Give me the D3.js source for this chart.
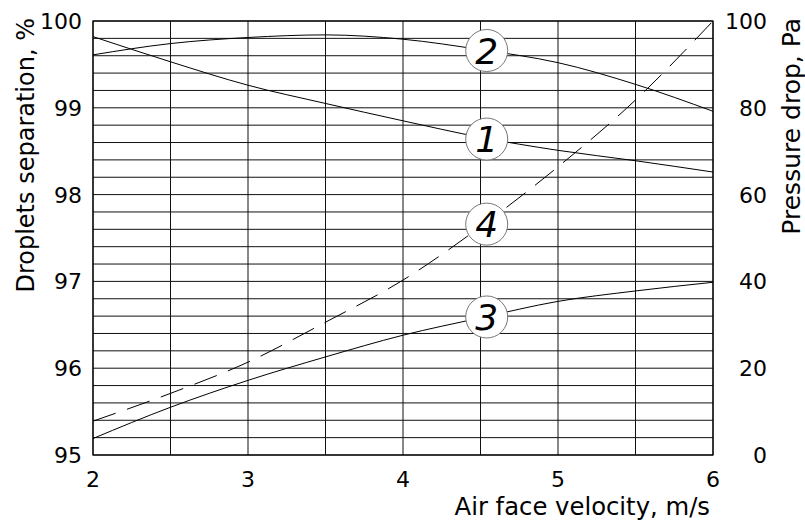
<!DOCTYPE html>
<html>
<head>
<meta charset="utf-8">
<script src="https://cdn.jsdelivr.net/npm/d3@7"></script>
<style>
  body { margin: 0; background: #fff; }
  text { font-family: "DejaVu Sans", Verdana, sans-serif; fill: #000; }
</style>
</head>
<body>
<div id="chart"></div>
<script>
// velocity, m/s
const velocity = [2, 2.5, 3, 3.5, 4, 4.5, 5, 5.5, 6];
// droplets separation, % (left axis)
const curve1 = [99.82, 99.53, 99.26, 99.05, 98.85, 98.66, 98.51, 98.39, 98.26];
const curve2 = [99.61, 99.74, 99.81, 99.84, 99.79, 99.67, 99.52, 99.27, 98.96];
const curve3 = [95.19, 95.55, 95.86, 96.13, 96.38, 96.58, 96.77, 96.89, 96.99];
// pressure drop, Pa (right axis)
const curve4 = [7.8, 14.2, 21.4, 30.6, 40.3, 52.6, 66.4, 81.8, 100];

const xTicks = [2, 3, 4, 5, 6];
const leftTicks = [95, 96, 97, 98, 99, 100];
const rightTicks = [0, 20, 40, 60, 80, 100];

// curve markers: label, position along x, value, axis
const markers = [
  { label: '2', x: 4.54, y: 99.66, axis: 'left' },
  { label: '1', x: 4.54, y: 98.64, axis: 'left' },
  { label: '4', x: 4.54, y: 53.2, axis: 'right' },
  { label: '3', x: 4.54, y: 96.59, axis: 'left' }
];

const width = 805, height = 522;
const margin = { top: 21, right: 92, bottom: 67, left: 93 };

const svg = d3.select('#chart').append('svg')
  .attr('width', width)
  .attr('height', height);

const x = d3.scaleLinear().domain([2, 6]).range([margin.left, width - margin.right]);
const yL = d3.scaleLinear().domain([95, 100]).range([height - margin.bottom, margin.top]);
const yR = d3.scaleLinear().domain([0, 100]).range([height - margin.bottom, margin.top]);

// grid
const hGrid = d3.range(95, 100.0001, 0.2);
const vGrid = d3.range(2, 6.0001, 0.5);

svg.append('g')
  .selectAll('line')
  .data(hGrid)
  .join('line')
  .attr('x1', x(2)).attr('x2', x(6))
  .attr('y1', d => yL(d)).attr('y2', d => yL(d))
  .attr('stroke', '#111')
  .attr('stroke-width', 1);

svg.append('g')
  .selectAll('line')
  .data(vGrid)
  .join('line')
  .attr('y1', yL(95)).attr('y2', yL(100))
  .attr('x1', d => x(d)).attr('x2', d => x(d))
  .attr('stroke', '#111')
  .attr('stroke-width', 1);

svg.append('rect')
  .attr('x', x(2)).attr('y', yL(100))
  .attr('width', x(6) - x(2)).attr('height', yL(95) - yL(100))
  .attr('fill', 'none')
  .attr('stroke', '#000')
  .attr('stroke-width', 1.2);

// curves
const lineL = d3.line().x((d, i) => x(velocity[i])).y(d => yL(d)).curve(d3.curveMonotoneX);
const lineR = d3.line().x((d, i) => x(velocity[i])).y(d => yR(d)).curve(d3.curveMonotoneX);

[curve1, curve2, curve3].forEach(c => {
  svg.append('path')
    .attr('d', lineL(c))
    .attr('fill', 'none')
    .attr('stroke', '#000')
    .attr('stroke-width', 1);
});

svg.append('path')
  .attr('d', lineR(curve4))
  .attr('fill', 'none')
  .attr('stroke', '#000')
  .attr('stroke-width', 1)
  .attr('stroke-dasharray', '24,12');

// markers
const mg = svg.append('g')
  .selectAll('g')
  .data(markers)
  .join('g')
  .attr('transform', d => `translate(${x(d.x)},${d.axis === 'left' ? yL(d.y) : yR(d.y)})`);

mg.append('circle')
  .attr('r', 21)
  .attr('fill', '#fff')
  .attr('stroke', '#777')
  .attr('stroke-width', 1);

mg.append('text')
  .attr('text-anchor', 'middle')
  .attr('dy', '0.37em')
  .attr('font-style', 'italic')
  .attr('font-size', 36)
  .text(d => d.label);

// tick labels
svg.append('g')
  .selectAll('text')
  .data(xTicks)
  .join('text')
  .attr('x', d => x(d))
  .attr('y', 487)
  .attr('text-anchor', 'middle')
  .attr('font-size', 22)
  .text(d => d);

svg.append('g')
  .selectAll('text')
  .data(leftTicks)
  .join('text')
  .attr('x', 82)
  .attr('y', d => yL(d))
  .attr('dy', '0.36em')
  .attr('text-anchor', 'end')
  .attr('font-size', 22)
  .text(d => d);

svg.append('g')
  .selectAll('text')
  .data(rightTicks)
  .join('text')
  .attr('x', 767)
  .attr('y', d => yR(d))
  .attr('dy', '0.36em')
  .attr('text-anchor', 'end')
  .attr('font-size', 22)
  .text(d => d);

// axis titles
svg.append('text')
  .attr('x', 710)
  .attr('y', 515)
  .attr('text-anchor', 'end')
  .attr('font-size', 24.3)
  .text('Air face velocity, m/s');

svg.append('text')
  .attr('transform', 'translate(34,18) rotate(-90)')
  .attr('text-anchor', 'end')
  .attr('font-size', 24)
  .text('Droplets separation, %');

svg.append('text')
  .attr('transform', 'translate(800,18) rotate(-90)')
  .attr('text-anchor', 'end')
  .attr('font-size', 25)
  .text('Pressure drop, Pa');
</script>
</body>
</html>
